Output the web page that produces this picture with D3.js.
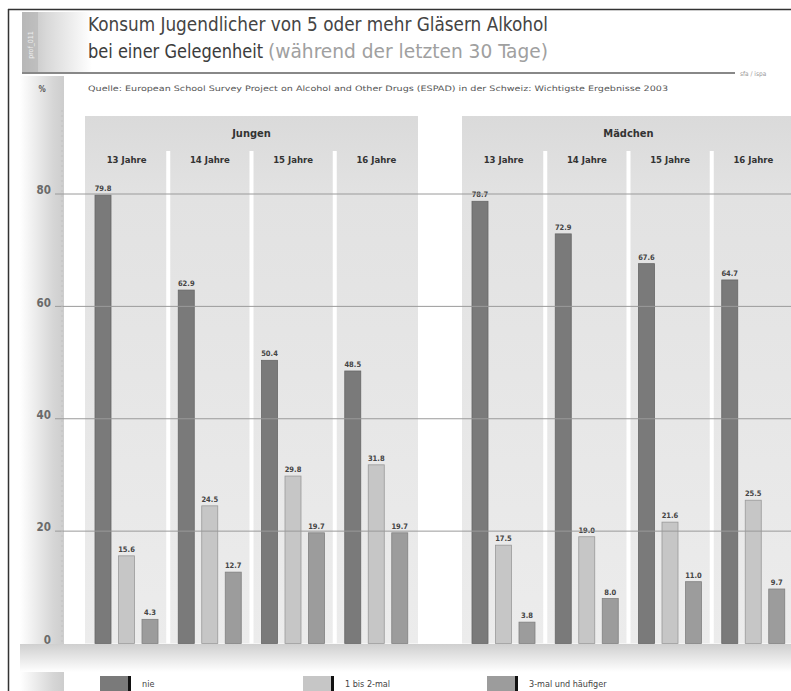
<!DOCTYPE html>
<html><head><meta charset="utf-8">
<script src="https://cdn.jsdelivr.net/npm/d3@7"></script>
<style>body{margin:0;background:#fff}svg{display:block}</style>
</head><body>
<svg id="c" width="791" height="691"></svg>
<script>
const groups = ["Jungen", "Mädchen"];
const categories = ["13 Jahre", "14 Jahre", "15 Jahre", "16 Jahre"];
const seriesNames = ["nie", "1 bis 2-mal", "3-mal und häufiger"];
const nieJungen = [79.8, 62.9, 50.4, 48.5];
const bis2Jungen = [15.6, 24.5, 29.8, 31.8];
const dreiJungen = [4.3, 12.7, 19.7, 19.7];
const nieMaedchen = [78.7, 72.9, 67.6, 64.7];
const bis2Maedchen = [17.5, 19.0, 21.6, 25.5];
const dreiMaedchen = [3.8, 8.0, 11.0, 9.7];
const yTicks = [0, 20, 40, 60, 80];

const values = {
  "Jungen": [nieJungen, bis2Jungen, dreiJungen],
  "Mädchen": [nieMaedchen, bis2Maedchen, dreiMaedchen]
};
const colors = d3.scaleOrdinal().domain(seriesNames).range(["#7a7a7a", "#c6c6c6", "#9c9c9c"]);
const strokes = d3.scaleOrdinal().domain(seriesNames).range(["#666", "#999", "#808080"]);

const svg = d3.select("#c");
const defs = svg.append("defs");
const FONT = "'DejaVu Sans Condensed','Liberation Sans Narrow','Roboto Condensed',Roboto,sans-serif";

function lg(id, x1, y1, x2, y2, stops) {
  const g = defs.append("linearGradient").attr("id", id)
    .attr("x1", x1).attr("y1", y1).attr("x2", x2).attr("y2", y2);
  stops.forEach(s => g.append("stop").attr("offset", s[0]).attr("stop-color", s[1]));
}
lg("leftStrip", 0, 0, 1, 0, [[0, "#ffffff"], [0.75, "#d6d6d6"], [1, "#cdcdcd"]]);
lg("headBand", 0, 0, 1, 0, [[0, "#bdbdbd"], [0.35, "#d8d8d8"], [1, "#ffffff"]]);
lg("bottomBand", 0, 0, 0, 1, [[0, "#cfcfcf"], [1, "#ffffff"]]);
lg("panelBg", 0, 0, 0, 1, [[0, "#dadada"], [0.15, "#e2e2e2"], [1, "#ececec"]]);

const y = d3.scaleLinear().domain([0, 80]).range([643.5, 194]);
const x0 = d3.scaleBand().domain(groups).range([85, 795]).paddingInner(0.1167).paddingOuter(0);
const x1 = d3.scaleBand().domain(categories).range([0, x0.bandwidth()]).padding(0);
const x2 = d3.scaleBand().domain(seriesNames).range([10, 73]).paddingInner(0.319).paddingOuter(0);

// left strip
svg.append("rect").attr("x", 20).attr("y", 76).attr("width", 44).attr("height", 615).attr("fill", "url(#leftStrip)");
// header band
svg.append("rect").attr("x", 22).attr("y", 12).attr("width", 70).attr("height", 61).attr("fill", "url(#headBand)");
svg.append("rect").attr("x", 22).attr("y", 12).attr("width", 16).attr("height", 61).attr("fill", "#b4b4b4").attr("opacity", 0.6);
svg.append("text").attr("transform", "translate(33,45) rotate(-90)").attr("text-anchor", "middle")
  .attr("font-family", FONT).attr("font-size", 7).attr("fill", "#eee").text("prof_011");

// bottom band
svg.append("rect").attr("x", 20).attr("y", 644).attr("width", 771).attr("height", 28).attr("fill", "url(#bottomBand)");

// panels
const panel = svg.append("g").selectAll("g").data(groups).join("g")
  .attr("transform", d => `translate(${x0(d)},0)`);
panel.append("rect").attr("x", 0).attr("y", 116).attr("width", x0.bandwidth())
  .attr("height", y(0) - 116).attr("fill", "url(#panelBg)");
panel.selectAll("rect.gap").data(categories.slice(1)).join("rect").attr("class", "gap")
  .attr("x", d => x1(d) - 2).attr("y", 151).attr("width", 4).attr("height", y(0) - 151).attr("fill", "#fff");
panel.append("text").attr("x", x0.bandwidth() / 2).attr("y", 137).attr("text-anchor", "middle")
  .attr("font-family", FONT).attr("font-size", 11).attr("font-weight", "bold").attr("fill", "#333").text(d => d);
panel.selectAll("text.age").data(categories).join("text").attr("class", "age")
  .attr("x", d => x1(d) + x1.bandwidth() / 2).attr("y", 163).attr("text-anchor", "middle")
  .attr("font-family", FONT).attr("font-size", 9.5).attr("font-weight", 600).attr("fill", "#333").text(d => d);

// gridlines
svg.append("g").selectAll("line").data(yTicks.filter(t => t > 0)).join("line")
  .attr("x1", 55).attr("x2", 791).attr("y1", d => y(d)).attr("y2", d => y(d))
  .attr("stroke", "#9a9a9a").attr("stroke-width", 1);

// dotted axis line
svg.append("line").attr("x1", 62).attr("x2", 62).attr("y1", 110).attr("y2", y(0))
  .attr("stroke", "#c0c0c0").attr("stroke-dasharray", "2,3");

// y axis labels
const yAxis = d3.axisLeft(y).tickValues(yTicks).tickSize(0).tickPadding(0);
const ya = svg.append("g").attr("transform", "translate(51,-4)").call(yAxis);
ya.select(".domain").remove();
ya.selectAll("text").attr("font-family", FONT).attr("font-size", 11.5).attr("font-weight", "bold").attr("fill", "#6a6a6a");
svg.append("text").attr("x", 42).attr("y", 92).attr("text-anchor", "middle")
  .attr("font-family", FONT).attr("font-size", 8).attr("font-weight", "bold").attr("fill", "#555").text("%");

// bars
panel.each(function (g) {
  const p = d3.select(this);
  categories.forEach((cat, ci) => {
    const cg = p.append("g").attr("transform", `translate(${x1(cat)},0)`);
    seriesNames.forEach((s, si) => {
      const v = values[g][si][ci];
      cg.append("rect").attr("x", x2(s)).attr("y", y(v)).attr("width", x2.bandwidth())
        .attr("height", y(0) - y(v)).attr("fill", colors(s)).attr("stroke", strokes(s)).attr("stroke-width", 0.8);
      cg.append("text").attr("x", x2(s) + x2.bandwidth() / 2).attr("y", y(v) - 4).attr("text-anchor", "middle")
        .attr("font-family", FONT).attr("font-size", 7.5).attr("font-weight", "bold").attr("fill", "#444")
        .text(d3.format(".1f")(v));
    });
  });
});

// frame
svg.append("line").attr("x1", 8).attr("x2", 791).attr("y1", 9.5).attr("y2", 9.5).attr("stroke", "#333").attr("stroke-width", 1.5);
svg.append("line").attr("x1", 8.5).attr("x2", 8.5).attr("y1", 9).attr("y2", 691).attr("stroke", "#333").attr("stroke-width", 1.5);

// title
svg.append("text").attr("x", 88).attr("y", 31).attr("font-family", FONT).attr("font-size", 20)
  .attr("fill", "#444").attr("textLength", 460).attr("lengthAdjust", "spacingAndGlyphs")
  .text("Konsum Jugendlicher von 5 oder mehr Gläsern Alkohol");
svg.append("text").attr("x", 88).attr("y", 58).attr("font-family", FONT).attr("font-size", 20)
  .attr("fill", "#3c3c3c").attr("textLength", 175).attr("lengthAdjust", "spacingAndGlyphs")
  .text("bei einer Gelegenheit");
svg.append("text").attr("x", 268).attr("y", 58).attr("font-family", FONT).attr("font-size", 20)
  .attr("fill", "#a0a0a0").attr("textLength", 280).attr("lengthAdjust", "spacingAndGlyphs")
  .text("(während der letzten 30 Tage)");
svg.append("line").attr("x1", 22).attr("x2", 735).attr("y1", 73).attr("y2", 73).attr("stroke", "#888").attr("stroke-width", 2);
svg.append("text").attr("x", 740).attr("y", 76).attr("font-family", FONT).attr("font-size", 6.5)
  .attr("fill", "#999").text("sfa / ispa");
svg.append("text").attr("x", 88).attr("y", 91).attr("font-family", FONT).attr("font-size", 7.5)
  .attr("fill", "#555").attr("textLength", 580).attr("lengthAdjust", "spacingAndGlyphs")
  .text("Quelle: European School Survey Project on Alcohol and Other Drugs (ESPAD) in der Schweiz: Wichtigste Ergebnisse 2003");

// legend
const legX = d3.scaleOrdinal().domain(seriesNames).range([100, 303, 487]);
const leg = svg.append("g").selectAll("g").data(seriesNames).join("g")
  .attr("transform", d => `translate(${legX(d)},676)`);
leg.append("rect").attr("width", 28).attr("height", 15).attr("fill", d => colors(d));
leg.append("rect").attr("x", 28).attr("width", 3).attr("height", 15).attr("fill", "#111");
leg.append("text").attr("x", 42).attr("y", 11).attr("font-family", FONT).attr("font-size", 9)
  .attr("fill", "#444").text(d => d);
</script>
</body></html>
